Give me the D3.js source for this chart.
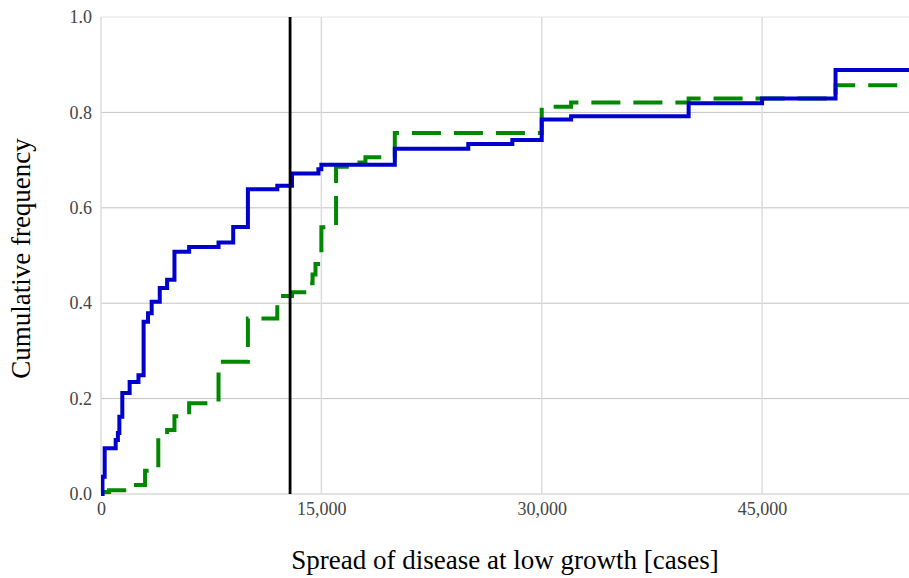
<!DOCTYPE html>
<html>
<head>
<meta charset="utf-8">
<script src="https://cdn.jsdelivr.net/npm/d3@7"></script>
<style>
  body { margin: 0; background: #fff; }
  text { font-family: "Liberation Serif", "Times New Roman", serif; }
</style>
</head>
<body>
<div id="chart"></div>
<script>
// Step data (cases, cumulative frequency)
var blueCases = [0, 100, 250, 1000, 1150, 1250, 1450, 1950, 2550, 2900, 3200, 3450, 4000, 4500, 5000, 6000, 8000, 9000, 10000, 12000, 13000, 14800, 15000, 20000, 25000, 28000, 30000, 32000, 40000, 45000, 50000];
var blueFreq  = [0, 0.036, 0.096, 0.113, 0.128, 0.162, 0.212, 0.235, 0.249, 0.361, 0.379, 0.403, 0.432, 0.449, 0.508, 0.518, 0.527, 0.560, 0.639, 0.646, 0.672, 0.681, 0.690, 0.724, 0.734, 0.742, 0.785, 0.792, 0.819, 0.829, 0.889];

var greenCases = [0, 100, 550, 2200, 3000, 3900, 4500, 5000, 6000, 8000, 10000, 12000, 13000, 14000, 14400, 14600, 15000, 16000, 17000, 18000, 20000, 30000, 32000, 40000, 50000];
var greenFreq  = [0, 0.004, 0.008, 0.019, 0.049, 0.120, 0.134, 0.163, 0.190, 0.277, 0.368, 0.415, 0.423, 0.442, 0.460, 0.482, 0.559, 0.686, 0.695, 0.706, 0.757, 0.812, 0.821, 0.829, 0.857];

var thresholdCases = 12870;

var xTicks = [0, 15000, 30000, 45000];
var yTicks = [0, 0.2, 0.4, 0.6, 0.8, 1.0];

var svgWidth = 909;
var svgHeight = 578;
var margin = { top: 17, right: 0, bottom: 84, left: 101 };
var width = svgWidth - margin.left - margin.right;
var height = svgHeight - margin.top - margin.bottom;

var svg = d3.select("#chart")
  .append("svg")
  .attr("width", svgWidth)
  .attr("height", svgHeight);

var chartGroup = svg.append("g")
  .attr("transform", `translate(${margin.left}, ${margin.top})`);

var xScale = d3.scaleLinear().domain([0, 55000]).range([0, width]);
var yScale = d3.scaleLinear().domain([0, 1]).range([height, 0]);

// grid
chartGroup.selectAll(".hgrid")
  .data(yTicks)
  .enter()
  .append("line")
  .attr("x1", 0)
  .attr("x2", width)
  .attr("y1", d => yScale(d))
  .attr("y2", d => yScale(d))
  .attr("stroke", d => d === 1 ? "#e4e4e4" : "#c4c4c4")
  .attr("stroke-width", 1);

chartGroup.selectAll(".vgrid")
  .data(xTicks)
  .enter()
  .append("line")
  .attr("x1", d => xScale(d))
  .attr("x2", d => xScale(d))
  .attr("y1", 0)
  .attr("y2", height)
  .attr("stroke", "#dcdcdc")
  .attr("stroke-width", 1.5);

// axes (labels only)
var bottomAxis = d3.axisBottom(xScale).tickValues(xTicks).tickSize(0).tickPadding(8)
  .tickFormat(d3.format(",d"));
var leftAxis = d3.axisLeft(yScale).tickValues(yTicks).tickSize(0).tickPadding(9)
  .tickFormat(d3.format(".1f"));

var xAxisG = chartGroup.append("g")
  .attr("transform", `translate(0, ${height})`)
  .call(bottomAxis);
var yAxisG = chartGroup.append("g").call(leftAxis);

[xAxisG, yAxisG].forEach(function(g) {
  g.select(".domain").remove();
  g.selectAll("text")
    .style("font-family", "'Liberation Serif', serif")
    .style("font-size", "18px")
    .attr("fill", "#444");
});

// clip
svg.append("defs").append("clipPath").attr("id", "plotClip")
  .append("rect").attr("x", 0).attr("y", -3).attr("width", width).attr("height", height + 6);

function toPoints(xs, ys) {
  var pts = xs.map((x, i) => [x, ys[i]]);
  pts.push([xScale.domain()[1], ys[ys.length - 1]]);
  return pts;
}

var stepLine = d3.line()
  .x(d => xScale(d[0]))
  .y(d => yScale(d[1]))
  .curve(d3.curveStepAfter);

var plot = chartGroup.append("g").attr("clip-path", "url(#plotClip)");

plot.append("path")
  .datum(toPoints(greenCases, greenFreq))
  .attr("d", stepLine)
  .attr("fill", "none")
  .attr("stroke", "#008800")
  .attr("stroke-width", 4)
  .attr("stroke-dasharray", "29,13");

plot.append("path")
  .datum(toPoints(blueCases, blueFreq))
  .attr("d", stepLine)
  .attr("fill", "none")
  .attr("stroke", "#0000cc")
  .attr("stroke-width", 4);

// threshold line
chartGroup.append("line")
  .attr("x1", xScale(thresholdCases))
  .attr("x2", xScale(thresholdCases))
  .attr("y1", 0)
  .attr("y2", height)
  .attr("stroke", "#000")
  .attr("stroke-width", 2.8);

// axis titles
svg.append("text")
  .attr("x", margin.left + width / 2)
  .attr("y", 569)
  .attr("text-anchor", "middle")
  .style("font-size", "27px")
  .attr("fill", "#000")
  .text("Spread of disease at low growth [cases]");

svg.append("text")
  .attr("transform", `translate(30, ${margin.top + height / 2 + 3}) rotate(-90)`)
  .attr("text-anchor", "middle")
  .style("font-size", "27px")
  .attr("fill", "#000")
  .text("Cumulative frequency");
</script>
</body>
</html>
